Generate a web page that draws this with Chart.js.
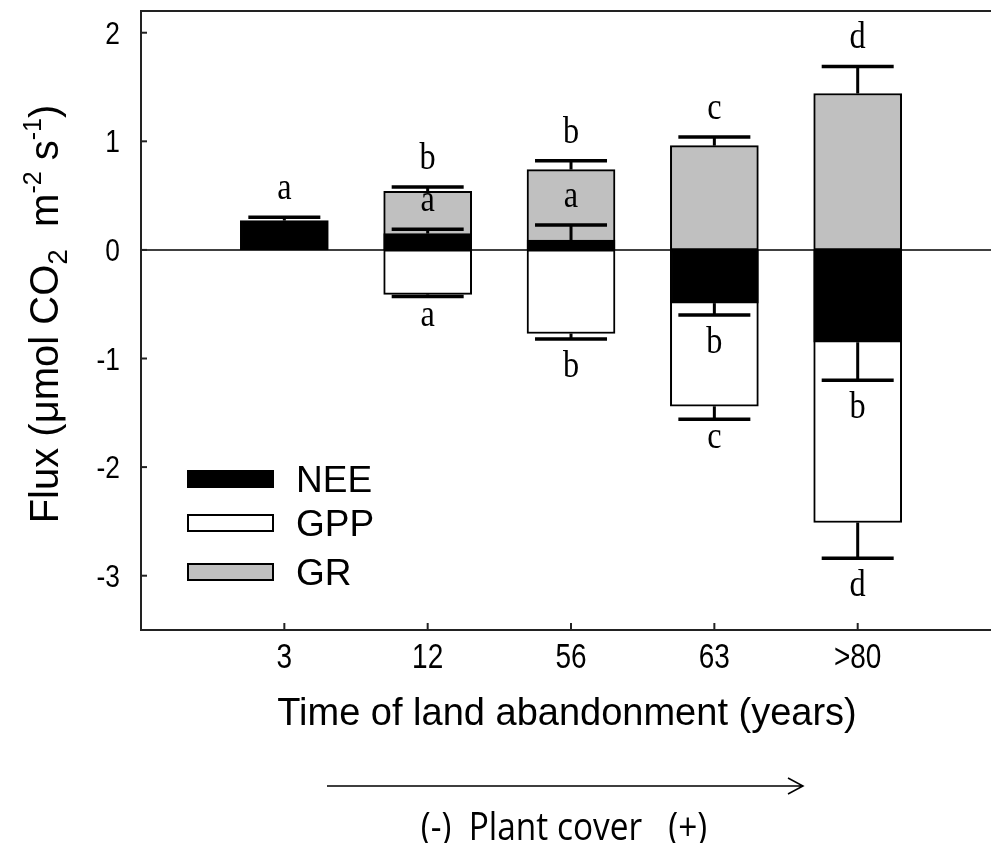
<!DOCTYPE html>
<html>
<head>
<meta charset="utf-8">
<script src="https://cdn.jsdelivr.net/npm/chart.js@4.4.1/dist/chart.umd.min.js"></script>
<style>
  html, body { margin: 0; padding: 0; background: #fff; }
  #wrap { width: 991px; height: 843px; position: relative; }
</style>
</head>
<body>
<div id="wrap"><canvas id="flux-chart"></canvas></div>
<script>
/* ── DATA ── */
const years      = ['3', '12', '56', '63', '>80'];
const nee        = [0.27, 0.15, 0.09, -0.49, -0.85];
const neeSe      = [0.03, 0.04, 0.14, 0.11, 0.35];
const gpp        = [null, -0.41, -0.77, -1.44, -2.51];
const gppSe      = [null, 0.02, 0.05, 0.12, 0.33];
const gr         = [null, 0.54, 0.74, 0.96, 1.44];
const grSe       = [null, 0.04, 0.08, 0.08, 0.25];
const neeLetters = ['a', 'a', 'a', 'b', 'b'];
const gppLetters = ['', 'a', 'b', 'c', 'd'];
const grLetters  = ['', 'b', 'b', 'c', 'd'];
const yTicks     = [-3, -2, -1, 0, 1, 2];

const C = {
  black: '#000000',
  white: '#ffffff',
  gray:  '#c0c0c0',
  frame: '#222222',
  text:  '#000000',
};
const SANS  = "'Liberation Sans', Arial, sans-serif";
const SERIF = "'Liberation Serif', 'Times New Roman', serif";

const AREA = { left: 141, top: 11, bottom: 630 };

const toXY = arr => arr.map((v, i) => ({ x: i + 1, y: v }));

/* text with horizontal squeeze */
function txt(ctx, s, x, y, font, align, base, sx) {
  ctx.save();
  ctx.font = font;
  ctx.textAlign = align;
  ctx.textBaseline = base;
  ctx.translate(x, y);
  ctx.scale(sx, 1);
  ctx.fillText(s, 0, 0);
  ctx.restore();
}

/* ── DECORATIONS: frame, ticks, errors, letters, titles, legend ── */
const decor = {
  id: 'decor',
  beforeDatasetsDraw(chart) {
    const { ctx, chartArea: a, scales: { y } } = chart;
    const y0 = y.getPixelForValue(0);
    ctx.save();
    ctx.strokeStyle = C.black;
    ctx.lineWidth = 1.5;
    ctx.beginPath();
    ctx.moveTo(a.left, y0);
    ctx.lineTo(a.right, y0);
    ctx.stroke();
    ctx.restore();
  },
  afterDatasetsDraw(chart) {
    const { ctx, chartArea: a, scales: { x, y } } = chart;
    ctx.save();
    ctx.fillStyle = C.text;

    // frame (right side is cut off in the figure)
    ctx.strokeStyle = C.frame;
    ctx.lineWidth = 2;
    ctx.beginPath();
    ctx.moveTo(a.right, a.top); ctx.lineTo(a.left, a.top);
    ctx.lineTo(a.left, a.bottom); ctx.lineTo(a.right, a.bottom);
    ctx.stroke();

    // inside ticks + labels
    yTicks.forEach(v => {
      const py = y.getPixelForValue(v);
      ctx.beginPath(); ctx.moveTo(a.left, py); ctx.lineTo(a.left + 6, py); ctx.stroke();
      txt(ctx, String(v), 120, py + 11, '31px ' + SANS, 'right', 'alphabetic', 0.85);
    });
    years.forEach((lab, i) => {
      const px = x.getPixelForValue(i + 1);
      ctx.beginPath(); ctx.moveTo(px, a.bottom); ctx.lineTo(px, a.bottom - 7); ctx.stroke();
      txt(ctx, lab, px, 668, '35px ' + SANS, 'center', 'alphabetic', 0.8);
    });

    // error bars
    const series = [
      { vals: gr,  se: grSe,  letters: grLetters },
      { vals: nee, se: neeSe, letters: neeLetters },
      { vals: gpp, se: gppSe, letters: gppLetters },
    ];
    ctx.strokeStyle = C.black;
    series.forEach(s => {
      s.vals.forEach((v, i) => {
        if (v === null) return;
        const dir = v >= 0 ? 1 : -1;
        const px = x.getPixelForValue(i + 1);
        const pv = y.getPixelForValue(v);
        const pe = y.getPixelForValue(v + dir * s.se[i]);
        ctx.lineWidth = 3;
        ctx.beginPath(); ctx.moveTo(px, pv); ctx.lineTo(px, pe); ctx.stroke();
        ctx.lineWidth = 3.5;
        ctx.beginPath(); ctx.moveTo(px - 36, pe); ctx.lineTo(px + 36, pe); ctx.stroke();

        const L = s.letters[i];
        if (!L) return;
        const font = '38px ' + SERIF;
        if (dir > 0) {
          txt(ctx, L, px, pe - 18, font, 'center', 'alphabetic', 0.85);
        } else {
          ctx.font = font;
          const asc = ctx.measureText(L).actualBoundingBoxAscent;
          txt(ctx, L, px, pe + 11 + asc, font, 'center', 'alphabetic', 0.85);
        }
      });
    });

    // x title
    txt(ctx, 'Time of land abandonment (years)', 567, 725, '38px ' + SANS, 'center', 'alphabetic', 1.0);

    // y title with sub/superscripts
    ctx.save();
    ctx.translate(58, 314);
    ctx.rotate(-Math.PI / 2);
    const parts = [
      ['Flux (\u03bcmol CO', 0, 40],
      ['2', 9, 28],
      ['  m', 0, 40],
      ['-2', -17, 25],
      [' s', 0, 40],
      ['-1', -17, 25],
      [')', 0, 40],
    ];
    let total = 0;
    parts.forEach(p => { ctx.font = p[2] + 'px ' + SANS; total += ctx.measureText(p[0]).width; });
    let cx = -total / 2;
    ctx.textBaseline = 'alphabetic';
    ctx.textAlign = 'left';
    parts.forEach(p => {
      ctx.font = p[2] + 'px ' + SANS;
      ctx.fillText(p[0], cx, p[1]);
      cx += ctx.measureText(p[0]).width;
    });
    ctx.restore();

    // legend (NEE, GPP, GR)
    const legendOrder = [0, 2, 1];
    const rows = [479, 523, 572];
    legendOrder.forEach((di, r) => {
      const ds = chart.data.datasets[di];
      ctx.fillStyle = ds.backgroundColor;
      ctx.fillRect(187, rows[r] - 9, 87, 18);
      ctx.lineWidth = 2;
      ctx.strokeStyle = C.black;
      ctx.strokeRect(188, rows[r] - 8, 85, 16);
      ctx.fillStyle = C.text;
      txt(ctx, ds.label, 296, rows[r] + 13, '37px ' + SANS, 'left', 'alphabetic', 1.0);
    });

    // plant cover arrow
    ctx.strokeStyle = C.black;
    ctx.lineWidth = 1.5;
    ctx.beginPath();
    ctx.moveTo(327, 786); ctx.lineTo(803, 786);
    ctx.moveTo(788, 778); ctx.lineTo(803, 786); ctx.lineTo(788, 794);
    ctx.stroke();
    txt(ctx, '(-)  Plant cover   (+)', 564, 840, '38px "Open Sans", sans-serif', 'center', 'alphabetic', 0.88);

    ctx.restore();
  },
};

const barBase = {
  grouped: false,
  barThickness: 88,
  borderWidth: 2,
  borderColor: C.black,
  borderSkipped: false,
};

new Chart(document.getElementById('flux-chart'), {
  type: 'bar',
  data: {
    datasets: [
      { ...barBase, label: 'NEE', data: toXY(nee), backgroundColor: C.black, order: 0 },
      { ...barBase, label: 'GR',  data: toXY(gr),  backgroundColor: C.gray,  order: 1 },
      { ...barBase, label: 'GPP', data: toXY(gpp), backgroundColor: C.white, order: 2 },
    ],
  },
  options: {
    responsive: true,
    maintainAspectRatio: false,
    animation: false,
    layout: { padding: { top: AREA.top, right: 0, bottom: 0, left: 0 } },
    plugins: { legend: { display: false }, tooltip: { enabled: false } },
    scales: {
      x: {
        type: 'linear',
        min: 0,
        max: 5.93,
        offset: false,
        grid: { display: false },
        border: { display: false },
        ticks: { display: false },
        afterFit: s => { s.height = 843 - AREA.bottom; },
      },
      y: {
        min: -3.5,
        max: 2.2,
        grid: { display: false },
        border: { display: false },
        ticks: { display: false },
        afterFit: s => { s.width = AREA.left; },
      },
    },
  },
  plugins: [decor],
});
</script>
</body>
</html>
